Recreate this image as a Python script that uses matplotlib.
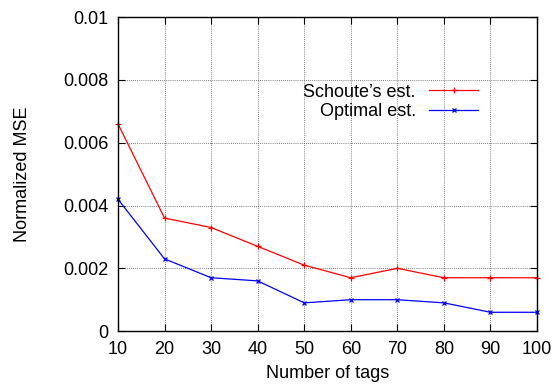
import matplotlib
matplotlib.use("Agg")
import matplotlib.pyplot as plt

tags = [10, 20, 30, 40, 50, 60, 70, 80, 90, 100]
schoute = [0.0066, 0.0036, 0.0033, 0.0027, 0.0021, 0.0017, 0.0020, 0.0017, 0.0017, 0.0017]
optimal = [0.0042, 0.0023, 0.0017, 0.0016, 0.0009, 0.0010, 0.0010, 0.0009, 0.0006, 0.0006]
yticks = [0, 0.002, 0.004, 0.006, 0.008, 0.01]
ytick_labels = ["0", "0.002", "0.004", "0.006", "0.008", "0.01"]

plt.rcParams['font.family'] = ['Liberation Sans', 'DejaVu Sans']
plt.rcParams['font.size'] = 13

fig = plt.figure(figsize=(5.55, 3.9), dpi=100)
ax = fig.add_axes([0.2126, 0.151, 0.7550, 0.805])

ax.plot(tags, schoute, color='#ff0000', lw=0.9, marker='+', ms=4, mew=0.9,
        label="Schoute\u2019s est.", clip_on=False)
ax.plot(tags, optimal, color='#0000ff', lw=0.9, marker='x', ms=3.5, mew=0.9,
        label="Optimal est.", clip_on=False)

ax.set_xlim(10, 100)
ax.set_ylim(0, 0.01)
ax.set_xticks(tags)
ax.set_yticks(yticks)
ax.set_yticklabels(ytick_labels)
ax.grid(True, color='#555555', linestyle=(0, (1, 1.5)), linewidth=0.6)
ax.tick_params(direction='in', top=True, right=True, length=5, width=0.8, pad=7)
for s in ax.spines.values():
    s.set_linewidth(1.0)

ax.set_xlabel("Number of tags", labelpad=5)
ax.set_ylabel("Normalized MSE", labelpad=23)

leg = ax.legend(loc='upper right', bbox_to_anchor=(0.86, 0.788), frameon=False,
                markerfirst=False, handlelength=2.75, handletextpad=0.72,
                labelspacing=0.12, borderpad=0, borderaxespad=0)
for t in leg.get_texts():
    t.set_ha('right')
leg._legend_box.align = "right"

fig.savefig("out.png", dpi=100)
